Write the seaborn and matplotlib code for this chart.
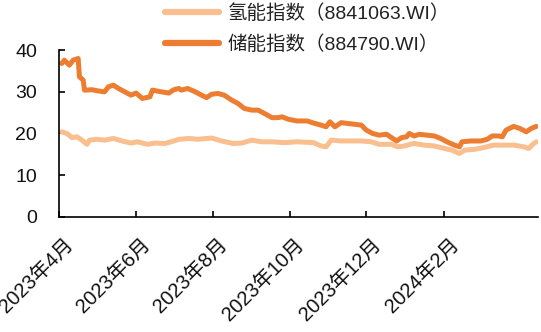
import matplotlib
matplotlib.use("Agg")
import matplotlib.pyplot as plt
import matplotlib.transforms as mtransforms
import pandas as pd
import seaborn as sns

# 储能指数（884790.WI）
storage_dates = [
    "2023-04-03", "2023-04-05", "2023-04-09", "2023-04-12", "2023-04-16", "2023-04-17",
    "2023-04-20", "2023-04-21", "2023-04-27", "2023-05-02", "2023-05-07", "2023-05-10",
    "2023-05-14", "2023-05-18", "2023-05-23", "2023-05-28", "2023-06-01", "2023-06-06",
    "2023-06-12", "2023-06-14", "2023-06-21", "2023-06-27", "2023-07-01", "2023-07-05",
    "2023-07-07", "2023-07-12", "2023-07-18", "2023-07-23", "2023-07-27", "2023-07-31",
    "2023-08-05", "2023-08-10", "2023-08-16", "2023-08-21", "2023-08-26", "2023-09-01",
    "2023-09-06", "2023-09-11", "2023-09-17", "2023-09-22", "2023-09-25", "2023-09-30",
    "2023-10-07", "2023-10-15", "2023-10-20", "2023-10-26", "2023-10-30", "2023-11-02",
    "2023-11-06", "2023-11-11", "2023-11-16", "2023-11-22", "2023-11-27", "2023-12-01",
    "2023-12-06", "2023-12-11", "2023-12-17", "2023-12-22", "2023-12-25", "2023-12-29",
    "2024-01-02", "2024-01-04", "2024-01-08", "2024-01-12", "2024-01-18", "2024-01-24",
    "2024-01-29", "2024-02-03", "2024-02-09", "2024-02-13", "2024-02-15", "2024-02-22",
    "2024-03-01", "2024-03-06", "2024-03-10", "2024-03-15", "2024-03-18", "2024-03-21",
    "2024-03-27", "2024-04-01", "2024-04-06", "2024-04-10", "2024-04-14",
]
storage_values = [
    36.8, 37.6, 36.4, 37.6, 38.0, 33.6,
    32.8, 30.4, 30.5, 30.2, 30.0, 31.2,
    31.6, 30.8, 30.0, 29.2, 29.7, 28.4,
    28.8, 30.4, 30.0, 29.7, 30.5, 30.8,
    30.4, 30.8, 30.0, 29.2, 28.6, 29.4,
    29.6, 29.2, 28.0, 27.2, 26.0, 25.6,
    25.6, 24.8, 23.8, 23.8, 24.0, 23.4,
    23.0, 23.0, 22.5, 22.0, 21.6, 22.8,
    21.6, 22.6, 22.4, 22.2, 22.0, 20.8,
    20.0, 19.6, 19.8, 18.8, 18.2, 19.0,
    19.2, 20.0, 19.4, 19.8, 19.6, 19.4,
    18.8, 18.0, 17.2, 16.8, 18.0, 18.2,
    18.2, 18.6, 19.4, 19.4, 19.2, 20.8,
    21.7, 21.2, 20.4, 21.2, 21.7,
]

# 氢能指数（8841063.WI）
hydrogen_dates = [
    "2023-04-03", "2023-04-07", "2023-04-11", "2023-04-15", "2023-04-19", "2023-04-23",
    "2023-04-25", "2023-05-01", "2023-05-07", "2023-05-14", "2023-05-21", "2023-05-28",
    "2023-06-02", "2023-06-10", "2023-06-16", "2023-06-24", "2023-07-01", "2023-07-05",
    "2023-07-13", "2023-07-20", "2023-07-31", "2023-08-08", "2023-08-17", "2023-08-24",
    "2023-09-01", "2023-09-09", "2023-09-17", "2023-09-27", "2023-10-07", "2023-10-20",
    "2023-10-26", "2023-10-30", "2023-11-03", "2023-11-11", "2023-11-27", "2023-12-05",
    "2023-12-11", "2023-12-21", "2023-12-26", "2023-12-31", "2024-01-05", "2024-01-08",
    "2024-01-16", "2024-01-24", "2024-02-01", "2024-02-07", "2024-02-13", "2024-02-17",
    "2024-02-25", "2024-03-03", "2024-03-11", "2024-03-19", "2024-03-27", "2024-04-04",
    "2024-04-08", "2024-04-12", "2024-04-14",
]
hydrogen_values = [
    20.4, 20.0, 19.0, 19.2, 18.4, 17.4,
    18.4, 18.6, 18.4, 18.8, 18.2, 17.7,
    18.0, 17.4, 17.7, 17.6, 18.2, 18.6,
    18.8, 18.6, 18.9, 18.2, 17.6, 17.7,
    18.4, 18.0, 18.0, 17.8, 18.0, 17.8,
    17.0, 16.8, 18.4, 18.2, 18.2, 18.0,
    17.4, 17.4, 16.8, 17.0, 17.4, 17.6,
    17.2, 17.0, 16.4, 16.0, 15.2, 16.0,
    16.2, 16.6, 17.2, 17.2, 17.2, 16.8,
    16.4, 17.6, 18.0,
]

series_names = ["氢能指数（8841063.WI）", "储能指数（884790.WI）"]
series_colors = ["#F9BF8F", "#ED7D31"]

tick_dates = ["2023-04-01", "2023-06-01", "2023-08-01", "2023-10-01", "2023-12-01", "2024-02-01"]
tick_labels = ["2023年4月", "2023年6月", "2023年8月", "2023年10月", "2023年12月", "2024年2月"]
y_ticks = [0, 10, 20, 30, 40]

df = pd.concat([
    pd.DataFrame({"date": pd.to_datetime(hydrogen_dates), "value": hydrogen_values,
                  "series": series_names[0]}),
    pd.DataFrame({"date": pd.to_datetime(storage_dates), "value": storage_values,
                  "series": series_names[1]}),
], ignore_index=True)

sns.set_theme(style="ticks")
plt.rcParams["font.family"] = ["Liberation Sans", "Noto Sans CJK SC", "DejaVu Sans"]

fig = plt.figure(figsize=(5.41, 3.32), dpi=100)
ax = fig.add_axes([0.1096, 0.347, 0.884, 0.502])

sns.lineplot(data=df, x="date", y="value", hue="series", hue_order=series_names,
             palette=dict(zip(series_names, series_colors)), linewidth=3.6,
             ax=ax, legend=False, estimator=None)

ax.set_xlim(pd.Timestamp("2023-04-01"), pd.Timestamp("2024-04-15"))
ax.set_ylim(0, 40)
ax.set_yticks(y_ticks)
ax.set_yticklabels([str(v) for v in y_ticks])
ax.set_xticks(pd.to_datetime(tick_dates))
ax.set_xticklabels(tick_labels, rotation=45, ha="right", va="top", rotation_mode="anchor")
ax.set_xlabel("")
ax.set_ylabel("")

for side in ("top", "right"):
    ax.spines[side].set_visible(False)
for side in ("left", "bottom"):
    ax.spines[side].set_color("black")
    ax.spines[side].set_linewidth(1.2)

ax.tick_params(axis="y", direction="in", length=4, width=1.2, color="black",
               labelsize=14, pad=16, labelcolor="#111111")
ax.tick_params(axis="x", direction="in", length=4, width=1.2, color="black",
               labelsize=14.5, pad=13, labelcolor="#111111")

# nudge the rotated month labels a little to the right of their ticks
shift = mtransforms.ScaledTranslation(5 / 100, 0, fig.dpi_scale_trans)
for lbl in ax.get_xticklabels():
    lbl.set_transform(lbl.get_transform() + shift)

handles = [plt.Line2D([], [], color=c, linewidth=4.5, solid_capstyle="round") for c in series_colors]
fig.legend(handles, series_names, loc="upper left", bbox_to_anchor=(0.272, 1.04),
           frameon=False, fontsize=14, handlelength=2.8, handletextpad=0.45,
           labelspacing=0.62, labelcolor="#222222")

fig.savefig("out.png", dpi=100)
